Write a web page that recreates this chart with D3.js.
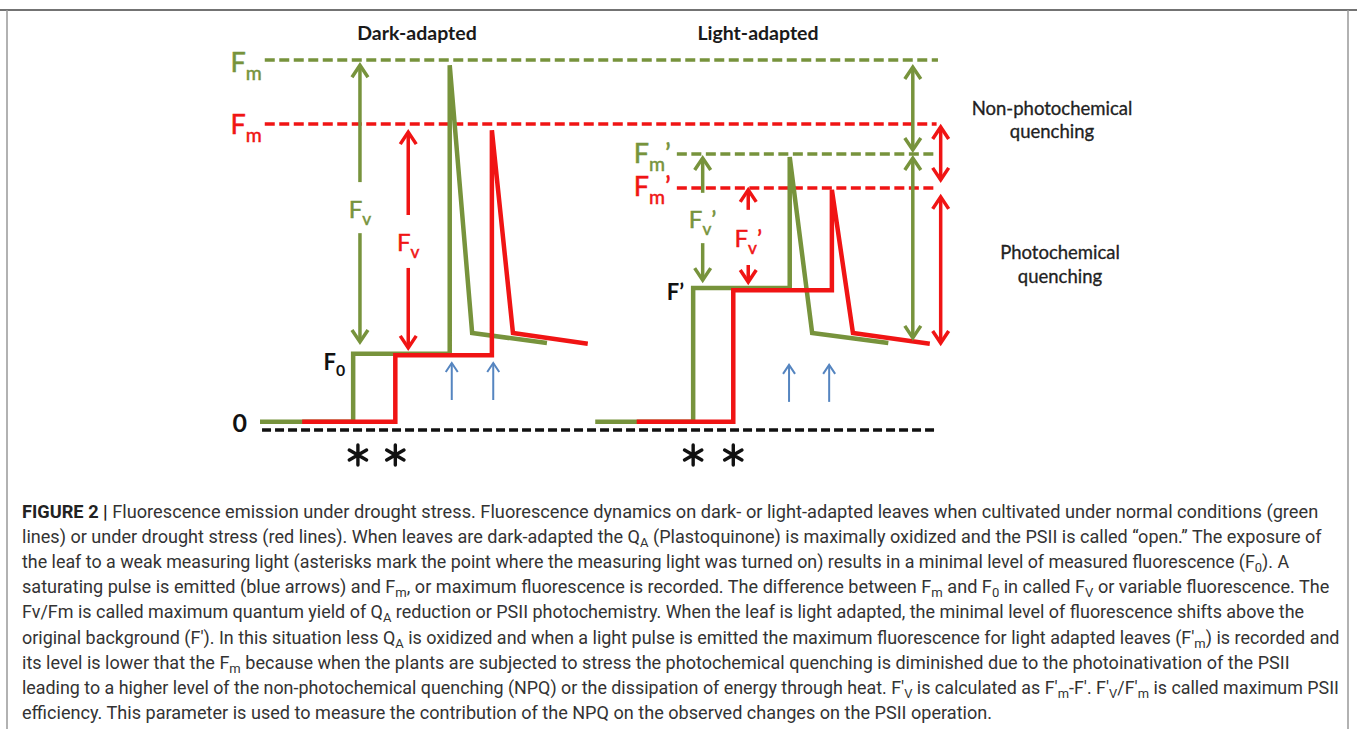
<!DOCTYPE html>
<html>
<head>
<meta charset="utf-8">
<script src="https://cdn.jsdelivr.net/npm/d3@7"></script>
<style>
  body { margin: 0; background: #fff; }
  svg { display: block; }
</style>
</head>
<body>
<svg id="chart"></svg>
<script>
// Traces: [time, fluorescence] in arbitrary units
const normalDark   = [[0, 2.2], [13.7, 2.2], [13.7, 20.6], [27.9, 20.6], [27.9, 98.6], [31.2, 26.2], [42.2, 23.5]];
const droughtDark  = [[6.2, 2.2], [19.9, 2.2], [19.9, 20.2], [34.1, 20.2], [34.1, 81], [37.2, 26.2], [48.2, 23.3]];
const normalLight  = [[49.3, 2.2], [63.7, 2.2], [63.7, 38.4], [77.9, 38.4], [77.9, 73.8], [81.2, 26.2], [92.4, 23.5]];
const droughtLight = [[55.4, 2.2], [69.6, 2.2], [69.6, 37.8], [84.1, 37.8], [84.1, 64.9], [87.2, 26.2], [98.5, 23.3]];

// Dashed reference levels (Fm, Fm', zero)
const levelSeries = ["normal", "drought", "normal", "drought", "base"];
const levelValues = [100, 82.7, 74.6, 65.4, 0];
const levelStart  = [0.7, 0.7, 61.3, 61.3, 0.3];
const levelEnd    = [99.7, 99.5, 99.3, 99.3, 99.7];

// Measurement arrows (Fv, Fv', NPQ, PQ)
const arrowSeries = ["normal", "normal", "drought", "drought", "normal", "normal", "drought", "drought", "normal", "normal", "drought", "drought"];
const arrowT      = [14.7, 14.7, 21.8, 21.8, 65.1, 65.1, 71.8, 71.8, 96, 96, 100.1, 100.1];
const arrowFrom   = [67, 53.2, 58.1, 43.8, 64.1, 50.5, 59.5, 44.6, 98.1, 73.5, 81.9, 63];
const arrowTo     = [98.6, 23.8, 80.5, 22.2, 73.5, 40.5, 64.9, 40, 75.7, 24.9, 67.6, 23.5];
const arrowBoth   = [false, false, false, false, false, false, false, false, true, true, true, true];

// Saturating pulses (blue arrows) and measuring light on (asterisks)
const pulseT    = [28.2, 34.3, 77.8, 83.7];
const pulseFrom = [8.1, 8.1, 7.6, 7.6];
const pulseTo   = [18.1, 18.1, 17.6, 17.6];
const asteriskT = [14.4, 19.9, 63.7, 69.6];

const titles = ["Dark-adapted", "Light-adapted"];

const captionLines = [
  "Fluorescence emission under drought stress. Fluorescence dynamics on dark- or light-adapted leaves when cultivated under normal conditions (green",
  "lines) or under drought stress (red lines). When leaves are dark-adapted the Q_{A} (Plastoquinone) is maximally oxidized and the PSII is called “open.” The exposure of",
  "the leaf to a weak measuring light (asterisks mark the point where the measuring light was turned on) results in a minimal level of measured fluorescence (F_{0}). A",
  "saturating pulse is emitted (blue arrows) and F_{m}, or maximum fluorescence is recorded. The difference between F_{m} and F_{0} in called F_{V} or variable fluorescence. The",
  "Fv/Fm is called maximum quantum yield of Q_{A} reduction or PSII photochemistry. When the leaf is light adapted, the minimal level of fluorescence shifts above the",
  "original background (F′). In this situation less Q_{A} is oxidized and when a light pulse is emitted the maximum fluorescence for light adapted leaves (F′_{m}) is recorded and",
  "its level is lower that the F_{m} because when the plants are subjected to stress the photochemical quenching is diminished due to the photoinativation of the PSII",
  "leading to a higher level of the non-photochemical quenching (NPQ) or the dissipation of energy through heat. F′_{V} is calculated as F′_{m}-F′. F′_{V}/F′_{m} is called maximum PSII",
  "efficiency. This parameter is used to measure the contribution of the NPQ on the observed changes on the PSII operation."
];
const captionEnds = [1319, 1324, 1290, 1330, 1305, 1340, 1290, 1340, 992];

const width = 1357;
const height = 729;
const color = { normal: "#77933c", drought: "#f01414", base: "#111", pulse: "#5585c0" };
const labelFont = "Lato, 'Open Sans', sans-serif";

const svg = d3.select("#chart").attr("width", width).attr("height", height);
svg.append("rect").attr("width", width).attr("height", height).attr("fill", "#fff");

const x = d3.scaleLinear().domain([0, 100]).range([260, 940]);
const y = d3.scaleLinear().domain([0, 100]).range([430, 60]);

// frame
svg.append("line").attr("x1", 0).attr("x2", width).attr("y1", 10).attr("y2", 10)
  .attr("stroke", "#444").attr("stroke-width", 1.5);
[7, 1348].forEach(px => {
  svg.append("line").attr("x1", px).attr("x2", px).attr("y1", 10).attr("y2", height)
    .attr("stroke", "#999").attr("stroke-width", 1.5);
});

// dashed levels
levelValues.forEach((v, i) => {
  svg.append("line")
    .attr("x1", x(levelStart[i])).attr("x2", x(levelEnd[i]))
    .attr("y1", y(v)).attr("y2", y(v))
    .attr("stroke", color[levelSeries[i]])
    .attr("stroke-width", 3.5)
    .attr("stroke-dasharray", levelSeries[i] === "base" ? "9,4" : "10,4.5");
});

// traces
const line = d3.line().x(d => x(d[0])).y(d => y(d[1]));
[[normalDark, "normal"], [droughtDark, "drought"], [normalLight, "normal"], [droughtLight, "drought"]]
  .forEach(([data, s]) => {
    svg.append("path").datum(data)
      .attr("d", line)
      .attr("fill", "none")
      .attr("stroke", color[s])
      .attr("stroke-width", 4.5);
  });

// arrow helper: open chevron heads
function arrow(t, from, to, c, both, hw, hh, sw) {
  const px = x(t), y1 = y(from), y2 = y(to);
  const g = svg.append("g").attr("stroke", c).attr("stroke-width", sw).attr("fill", "none");
  g.append("line").attr("x1", px).attr("x2", px).attr("y1", y1).attr("y2", y2);
  const head = (tip, dir) => {
    g.append("path").attr("d", `M${px - hw},${tip + dir * hh}L${px},${tip}L${px + hw},${tip + dir * hh}`);
  };
  const dir = y2 < y1 ? 1 : -1;
  head(y2, dir);
  if (both) head(y1, -dir);
}

arrowT.forEach((t, i) => arrow(t, arrowFrom[i], arrowTo[i], color[arrowSeries[i]], arrowBoth[i], 8, 12, 3.5));
pulseT.forEach((t, i) => arrow(t, pulseFrom[i], pulseTo[i], color.pulse, false, 6, 9, 2));

// asterisks: six spokes, drawn under the zero line
const spokes = [90, 30, 150].map(a => a * Math.PI / 180);
asteriskT.forEach(t => {
  const cx = x(t), cy = 455, r = 10;
  svg.append("path")
    .attr("d", spokes.map(a => `M${cx - r * Math.cos(a)},${cy - r * Math.sin(a)}L${cx + r * Math.cos(a)},${cy + r * Math.sin(a)}`).join(""))
    .attr("stroke", "#111")
    .attr("stroke-width", 3.4)
    .attr("stroke-linecap", "round");
});

// labels built from parts: [text, sub, prime]
function label(px, py, parts, c, size, anchor, weight) {
  const t = svg.append("text").attr("x", px).attr("y", py)
    .attr("text-anchor", anchor)
    .attr("font-family", labelFont)
    .attr("font-weight", weight || 400)
    .attr("font-size", size)
    .attr("fill", c)
    .attr("stroke", c)
    .attr("stroke-width", weight ? 0 : 0.5);
  t.append("tspan").text(parts[0]);
  const shift = Math.round(size * 0.28);
  if (parts[1]) t.append("tspan").attr("dy", shift).attr("font-size", size * 0.72).text(parts[1]);
  if (parts[2]) t.append("tspan").attr("dy", -shift).text(parts[2]);
  return t;
}

// Fm / Fm' labels at the left end of the dashed levels
label(x(levelStart[0]) - 3, y(levelValues[0]) + 12, ["F", "m"], color.normal, 27, "end");
label(x(levelStart[1]) - 3, y(levelValues[1]) + 10, ["F", "m"], color.drought, 27, "end");
label(x(levelStart[2]) - 6, y(levelValues[2]) + 9, ["F", "m", "’"], color.normal, 27, "end");
label(x(levelStart[3]) - 6, y(levelValues[3]) + 8, ["F", "m", "’"], color.drought, 27, "end");

// Fv labels in the gap between the split arrows
[[0, "normal", false], [2, "drought", false], [4, "normal", true], [6, "drought", true]].forEach(([i, s, prime]) => {
  const mid = (y(arrowFrom[i]) + y(arrowFrom[i + 1])) / 2;
  label(x(arrowT[i]), mid + 10, ["F", "v", prime ? "’" : null], color[s], 24, "middle");
});

// black level labels
label(x(normalDark[1][0]) - 8, y(normalDark[2][1]) + 16, ["F", "0"], "#111", 22, "end", 700);
label(x(normalLight[1][0]) - 9, y(normalLight[2][1]) + 12, ["F’"], "#111", 22, "end", 700);
label(x(0) - 13, y(0) + 2, ["0"], "#111", 25, "end", 700);

// titles
[[titles[0], 417], [titles[1], 758]].forEach(([t, px]) => {
  svg.append("text").attr("x", px).attr("y", 40)
    .attr("text-anchor", "middle")
    .attr("font-family", labelFont)
    .attr("font-weight", 700)
    .attr("font-size", 19.5)
    .attr("fill", "#1a1a1a")
    .text(t);
});

// quenching annotations
[["Non-photochemical", 1052, 115], ["quenching", 1052, 138], ["Photochemical", 1060, 259], ["quenching", 1060, 283]]
  .forEach(([t, px, py]) => {
    svg.append("text").attr("x", px).attr("y", py)
      .attr("text-anchor", "middle")
      .attr("font-family", labelFont)
      .attr("font-size", 18.5)
      .attr("fill", "#222")
      .attr("stroke", "#222")
      .attr("stroke-width", 0.3)
      .text(t);
  });

// caption
const capFont = "'Liberation Sans Narrow', Roboto, 'Liberation Sans', sans-serif";
captionLines.forEach((ln, i) => {
  const by = 518 + i * 25.12;
  const t = svg.append("text")
    .attr("x", 0).attr("y", 0)
    .attr("font-family", capFont)
    .attr("font-size", 18)
    .attr("fill", "#333");
  if (i === 0) t.append("tspan").attr("font-weight", 700).attr("fill", "#222").text("FIGURE 2 | ");
  let shifted = false;
  ln.split(/(_\{[^}]*\})/).forEach(seg => {
    if (!seg) return;
    if (seg.startsWith("_{")) {
      t.append("tspan").attr("dy", 4).attr("font-size", 13).text(seg.slice(2, -1));
      shifted = true;
    } else {
      const sp = t.append("tspan").text(seg);
      if (shifted) { sp.attr("dy", -4); shifted = false; }
    }
  });
  const w = t.node().getBBox().width;
  const sx = (captionEnds[i] - 22) / w;
  t.attr("transform", `translate(22,${by}) scale(${sx},1)`);
});
</script>
</body>
</html>
